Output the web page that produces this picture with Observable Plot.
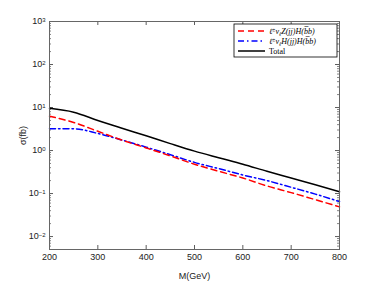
<!DOCTYPE html>
<html>
<head>
<meta charset="utf-8">
<script src="https://cdn.jsdelivr.net/npm/d3@7"></script>
<script src="https://cdn.jsdelivr.net/npm/@observablehq/plot@0.6"></script>
<style>
  html, body { margin: 0; padding: 0; background: #fff; }
  #chart svg { display: block; }
</style>
</head>
<body>
<div id="chart"></div>
<script>
// Data
const masses = [200, 250, 300, 350, 400, 450, 500, 550, 600, 650, 700, 750, 800];
const sigmaZH = [6.3, 4.5, 2.8, 1.75, 1.15, 0.75, 0.48, 0.33, 0.23, 0.15, 0.105, 0.072, 0.049];
const sigmaHH = [3.2, 3.2, 2.5, 1.75, 1.2, 0.8, 0.53, 0.38, 0.27, 0.2, 0.14, 0.097, 0.065];
const sigmaTotal = [9.6, 7.8, 5.0, 3.3, 2.2, 1.45, 0.97, 0.68, 0.48, 0.33, 0.23, 0.16, 0.11];

const xTicks = [200, 300, 400, 500, 600, 700, 800];
const yMajor = [1e-2, 1e-1, 1e0, 1e1, 1e2, 1e3];
const yExponents = ["\u22122", "\u22121", "0", "1", "2", "3"];
const yMinor = [];
for (let e = -3; e < 3; e++) for (let k = 2; k <= 9; k++) {
  const v = k * Math.pow(10, e);
  if (v >= 0.005 && v <= 1000) yMinor.push(v);
}

// legend labels: [text, baseline shift] pieces
const seriesNames = [
  [["\u2113", 0], ["\u00B1", -1], ["\u03BD", 0], ["\u2113", 1], ["Z(jj)H(b\u0305b)", 0]],
  [["\u2113", 0], ["\u00B1", -1], ["\u03BD", 0], ["\u2113", 1], ["H(jj)H(b\u0305b)", 0]],
  [["Total", 0]]
];

const rows = [];
masses.forEach((m, i) => {
  rows.push({M: m, s: sigmaZH[i], series: "ZH"});
  rows.push({M: m, s: sigmaHH[i], series: "HH"});
  rows.push({M: m, s: sigmaTotal[i], series: "Total"});
});

const W = 374, H = 281;
const mL = 49, mR = 35, mT = 21, mB = 32;
const innerW = W - mL - mR, innerH = H - mT - mB;
const font = "'Liberation Sans', Arial, sans-serif";

const chart = Plot.plot({
  width: W,
  height: H,
  marginLeft: mL,
  marginRight: mR,
  marginTop: mT,
  marginBottom: mB,
  style: {fontFamily: font, fontSize: "9px", background: "#fff", color: "#222"},
  x: {domain: [200, 800]},
  y: {type: "log", domain: [0.005, 1000]},
  marks: [
    Plot.axisX(xTicks, {tickSize: 0, tickPadding: 4, tickFormat: d => String(d), label: "M(GeV)", labelAnchor: "center", labelArrow: "none", labelOffset: 29, fontSize: 9}),
    Plot.axisY(yMajor, {tickSize: 0, tickPadding: 4, tickFormat: d => "10", label: "\u03C3(fb)", labelAnchor: "center", labelArrow: "none", labelOffset: 30, fontSize: 9}),
    Plot.tickX(xTicks, {x: d => d, insetTop: innerH - 4, stroke: "#333", strokeWidth: 0.8}),
    Plot.tickX(xTicks, {x: d => d, insetBottom: innerH - 4, stroke: "#333", strokeWidth: 0.8}),
    Plot.tickY(yMajor, {y: d => d, insetRight: innerW - 4, stroke: "#333", strokeWidth: 0.8}),
    Plot.tickY(yMajor, {y: d => d, insetLeft: innerW - 4, stroke: "#333", strokeWidth: 0.8}),
    Plot.tickY(yMinor, {y: d => d, insetRight: innerW - 2, stroke: "#333", strokeWidth: 0.6}),
    Plot.tickY(yMinor, {y: d => d, insetLeft: innerW - 2, stroke: "#333", strokeWidth: 0.6}),
    Plot.line(rows.filter(d => d.series === "Total"), {x: "M", y: "s", stroke: "#000", strokeWidth: 1.5, curve: "monotone-x"}),
    Plot.line(rows.filter(d => d.series === "HH"), {x: "M", y: "s", stroke: "#0000ff", strokeWidth: 1.5, strokeDasharray: "6,3,1.5,3", curve: "monotone-x"}),
    Plot.line(rows.filter(d => d.series === "ZH"), {x: "M", y: "s", stroke: "#ff0000", strokeWidth: 1.5, strokeDasharray: "6,4", curve: "monotone-x"}),
    Plot.frame({stroke: "#666", strokeWidth: 1})
  ]
});

document.getElementById("chart").appendChild(chart);

const svg = d3.select(chart);
svg.selectAll("g[aria-label='y-axis tick label'] text").each(function(d, i) {
  d3.select(this).append("tspan").attr("dy", "-0.45em").attr("font-size", "6px").text(yExponents[i]);
});

// legend (inside plot, top-right)
const lg = svg.append("g")
  .attr("font-family", "'Liberation Serif', 'DejaVu Serif', serif")
  .attr("font-size", "8px")
  .attr("text-anchor", "start");
const bx = 234, by = 24, bw = 103, bh = 33;
lg.append("rect").attr("x", bx).attr("y", by).attr("width", bw).attr("height", bh)
  .attr("fill", "#fff").attr("stroke", "#000").attr("stroke-width", 0.8);
const legendStyles = [
  {stroke: "#ff0000", dash: "6,4"},
  {stroke: "#0000ff", dash: "6,3,1.5,3"},
  {stroke: "#000", dash: null}
];
seriesNames.forEach((parts, i) => {
  const yy = by + 7 + i * 10;
  lg.append("line").attr("x1", bx + 4).attr("x2", bx + 31).attr("y1", yy).attr("y2", yy)
    .attr("stroke", legendStyles[i].stroke).attr("stroke-width", 1.5)
    .attr("stroke-dasharray", legendStyles[i].dash);
  const t = lg.append("text").attr("x", bx + 35).attr("y", yy + 2.5)
    .attr("text-anchor", "start").attr("fill", "#000")
    .attr("font-style", i < 2 ? "italic" : "normal");
  let prev = 0;
  parts.forEach(([txt, shift]) => {
    const dy = (shift - prev) * 2;
    t.append("tspan").attr("dy", dy).attr("font-size", shift ? "5.5px" : null).text(txt);
    prev = shift;
  });
});
</script>
</body>
</html>
